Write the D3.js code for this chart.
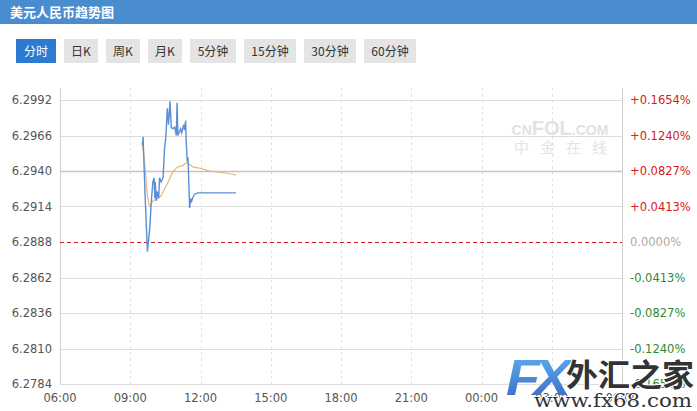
<!DOCTYPE html>
<html>
<head>
<meta charset="utf-8">
<script src="https://cdn.jsdelivr.net/npm/d3@7"></script>
<style>
  body { margin: 0; background: #fff; }
  svg { display: block; }
</style>
</head>
<body>
<div id="container"></div>
<script>
// price line (分时), HH:MM and rate
var priceTimes = ["09:31","09:33","09:34","09:38","09:44","09:50","09:54","09:58","10:01","10:03","10:04","10:07","10:09","10:13","10:15","10:19","10:24","10:28","10:31","10:35","10:38","10:42","10:45","10:49","10:54","10:58","11:00","11:02","11:09","11:12","11:17","11:19","11:22","11:23","11:26","11:28","11:30","11:32","11:35","11:36","11:41","11:45","11:53","12:10","12:40","13:10","13:31"];
var priceValues = [6.2959,6.2965,6.2955,6.2922,6.2881,6.2898,6.2918,6.2932,6.2935,6.2920,6.2932,6.2918,6.2925,6.2920,6.2935,6.2932,6.2935,6.2957,6.2964,6.2986,6.2974,6.2991,6.2972,6.2971,6.2972,6.2966,6.2990,6.2966,6.2971,6.2968,6.2974,6.2970,6.2977,6.2964,6.2947,6.2950,6.2932,6.2913,6.2920,6.2917,6.2921,6.2923,6.2924,6.2924,6.2924,6.2924,6.2924];

// average line
var avgTimes = ["09:31","09:34","09:45","09:50","09:58","10:11","10:19","10:28","10:37","10:45","10:54","11:02","11:15","11:24","11:41","11:59","12:24","12:50","13:15","13:31"];
var avgValues = [6.2959,6.2954,6.2920,6.2914,6.2918,6.2920,6.2922,6.2927,6.2932,6.2937,6.2941,6.2943,6.2944,6.2946,6.2943,6.2942,6.2940,6.2939,6.2938,6.2937];

var prevClose = 6.2888;
var yTicks = [6.2992,6.2966,6.2940,6.2914,6.2888,6.2862,6.2836,6.2810,6.2784];
var tabs = ["分时","日K","周K","月K","5分钟","15分钟","30分钟","60分钟"];
var tabWidths = [40,34,34,34,46,52,52,52];

var width = 697, height = 411;
var svg = d3.select('#container').append('svg')
  .attr('width', width)
  .attr('height', height)
  .style('font-family', '"DejaVu Sans", sans-serif');

var parse = d3.timeParse('%Y-%m-%d %H:%M');
function toDate(hm) { return parse('2021-06-01 ' + hm); }

var x = d3.scaleTime()
  .domain([parse('2021-06-01 06:00'), parse('2021-06-02 06:00')])
  .range([60, 622]);
var y = d3.scaleLinear()
  .domain([6.2784, 6.2992])
  .range([384, 100]);

var plotTop = 88, plotBottom = 384;

// CNFOL watermark
var wm = svg.append('text').attr('x', 560).attr('y', 135).attr('text-anchor', 'middle')
  .attr('font-weight', 'bold').attr('fill', '#e2e2e2')
  .style('font-family', '"Liberation Sans", sans-serif');
wm.append('tspan').attr('font-size', 14).text('CN');
wm.append('tspan').attr('font-size', 20).text('FOL');
wm.append('tspan').attr('font-size', 14).text('.COM');
svg.append('text').attr('x', 566).attr('y', 153).attr('text-anchor', 'middle')
  .attr('font-size', 15).attr('fill', '#e4e4e4').attr('letter-spacing', 11)
  .style('font-family', '"Noto Sans CJK SC", sans-serif')
  .text('中金在线');

// vertical dashed grid
var xTicks = x.ticks(d3.timeHour.every(3));
svg.append('g').selectAll('line').data(xTicks).enter().append('line')
  .attr('x1', function(d) { return Math.round(x(d)) + 0.5; })
  .attr('x2', function(d) { return Math.round(x(d)) + 0.5; })
  .attr('y1', plotTop).attr('y2', plotBottom)
  .attr('stroke', '#e3e3e3').attr('stroke-dasharray', '3,3');

// horizontal grid
svg.append('g').selectAll('line').data(yTicks).enter().append('line')
  .attr('x1', 60).attr('x2', 622)
  .attr('y1', function(d) { return Math.round(y(d)) + 0.5; })
  .attr('y2', function(d) { return Math.round(y(d)) + 0.5; })
  .attr('stroke', function(d) { return d === 6.2940 ? '#c4c4c4' : '#dcdcdc'; })
  .attr('stroke-width', function(d) { return d === 6.2940 ? 1.6 : 1; })
  .style('display', function(d) { return d === prevClose ? 'none' : null; });

// frame
svg.append('line').attr('x1', 60.5).attr('x2', 60.5).attr('y1', plotTop).attr('y2', plotBottom).attr('stroke', '#cfcfcf');
svg.append('line').attr('x1', 622.5).attr('x2', 622.5).attr('y1', plotTop).attr('y2', plotBottom).attr('stroke', '#cfcfcf');

// previous close
svg.append('line').attr('x1', 60).attr('x2', 622)
  .attr('y1', Math.round(y(prevClose)) + 0.5).attr('y2', Math.round(y(prevClose)) + 0.5)
  .attr('stroke', '#cc1f1f').attr('stroke-dasharray', '4,3');

// left axis labels
svg.append('g').selectAll('text').data(yTicks).enter().append('text')
  .attr('x', 52).attr('y', function(d) { return y(d) + 4; })
  .attr('text-anchor', 'end').attr('font-size', 11.5).attr('fill', '#555')
  .text(function(d) { return d.toFixed(4); });

// right axis percentages
svg.append('g').selectAll('text').data(yTicks).enter().append('text')
  .attr('x', 630).attr('y', function(d) { return y(d) + 4; })
  .attr('font-size', 11.5)
  .attr('fill', function(d) { return d > prevClose ? '#d42020' : (d < prevClose ? '#2f8a2f' : '#aaa'); })
  .text(function(d) {
    var p = (d - prevClose) / prevClose * 100;
    var s = Math.abs(p).toFixed(4) + '%';
    return p > 0.00001 ? '+' + s : (p < -0.00001 ? '-' + s : '0.0000%');
  });

// time labels
svg.append('g').selectAll('text').data(xTicks).enter().append('text')
  .attr('x', function(d) { return x(d); }).attr('y', 402)
  .attr('text-anchor', 'middle').attr('font-size', 11.5).attr('fill', '#555')
  .text(d3.timeFormat('%H:%M'));

// lines
var line = d3.line()
  .x(function(d) { return x(d.t); })
  .y(function(d) { return y(d.v); });

var avgData = avgTimes.map(function(t, i) { return {t: toDate(t), v: avgValues[i]}; });
var priceData = priceTimes.map(function(t, i) { return {t: toDate(t), v: priceValues[i]}; });

svg.append('path').datum(avgData).attr('d', line.curve(d3.curveMonotoneX))
  .attr('fill', 'none').attr('stroke', '#e2b771').attr('stroke-width', 1.2);
svg.append('path').datum(priceData).attr('d', line.curve(d3.curveLinear))
  .attr('fill', 'none').attr('stroke', '#5a8fd6').attr('stroke-width', 1.4);

// header + tabs drawn on top so nothing leaks into them
svg.append('rect').attr('x', 0).attr('y', 24).attr('width', width).attr('height', 64).attr('fill', '#fff');
svg.append('rect').attr('x', 0).attr('y', 0).attr('width', width).attr('height', 24).attr('fill', '#4a8dcf');
svg.append('text').attr('x', 10).attr('y', 17)
  .attr('fill', '#fff').attr('font-size', 13).attr('font-weight', 'bold')
  .style('font-family', '"Noto Sans CJK SC", sans-serif')
  .text('美元人民币趋势图');

var tx = 16;
tabs.forEach(function(t, i) {
  var g = svg.append('g').attr('transform', 'translate(' + tx + ',39)');
  g.append('rect').attr('width', tabWidths[i]).attr('height', 24)
    .attr('fill', i === 0 ? '#2c7bd0' : '#e4e4e4');
  g.append('text').attr('x', tabWidths[i] / 2).attr('y', 16.5)
    .attr('text-anchor', 'middle').attr('font-size', 12)
    .attr('fill', i === 0 ? '#fff' : '#333')
    .style('font-family', '"Noto Sans CJK SC", sans-serif')
    .text(t);
  tx += tabWidths[i] + 8;
});

// FX68 logo watermark
var logo = svg.append('g');
var grad = svg.append('defs').append('linearGradient').attr('id', 'fxg')
  .attr('x1', 0).attr('y1', 0).attr('x2', 0).attr('y2', 1);
grad.append('stop').attr('offset', '0%').attr('stop-color', '#5fb3ee');
grad.append('stop').attr('offset', '100%').attr('stop-color', '#3a62c4');
logo.append('text').attr('x', 506).attr('y', 395)
  .attr('font-size', 50).attr('font-weight', 'bold').attr('font-style', 'italic')
  .attr('fill', 'url(#fxg)').attr('letter-spacing', -6)
  .style('font-family', '"Liberation Sans", sans-serif')
  .attr('textLength', 58).attr('lengthAdjust', 'spacingAndGlyphs')
  .text('FX');
logo.append('text').attr('x', 566).attr('y', 386)
  .attr('font-size', 31).attr('font-weight', 'bold').attr('fill', '#333')
  .attr('stroke', '#fff').attr('stroke-width', 2).attr('paint-order', 'stroke')
  .style('font-family', '"Noto Sans CJK SC", serif')
  .attr('textLength', 128).attr('lengthAdjust', 'spacingAndGlyphs')
  .text('外汇之家');
logo.append('text').attr('x', 534).attr('y', 407)
  .attr('font-size', 18).attr('fill', '#333')
  .attr('stroke', '#fff').attr('stroke-width', 2).attr('paint-order', 'stroke')
  .style('font-family', '"DejaVu Serif", "Liberation Serif", serif')
  .attr('textLength', 158).attr('lengthAdjust', 'spacingAndGlyphs')
  .text('www.fx68.com');
</script>
</body>
</html>
